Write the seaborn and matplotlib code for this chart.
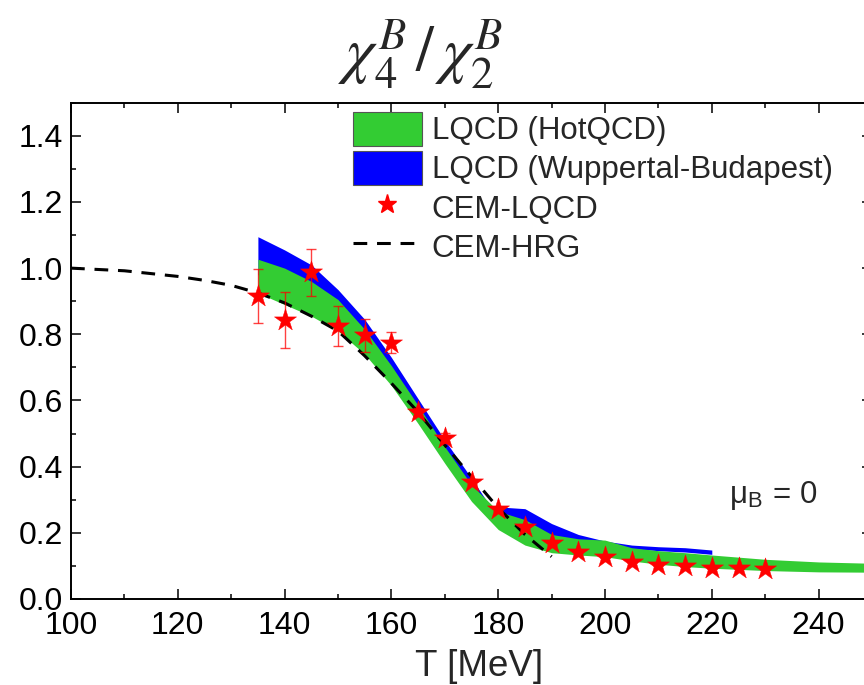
import numpy as np
import pandas as pd
import matplotlib
matplotlib.use("Agg")
import matplotlib.pyplot as plt
import seaborn as sns
from matplotlib.patches import Patch
from matplotlib.lines import Line2D
from matplotlib.ticker import MultipleLocator

# ---------------- data ----------------
hot_T = [135, 140, 145, 150, 155, 160, 165, 170, 175, 180, 185, 190, 195, 200, 205, 210, 215, 220, 230, 240, 250]
hot_lo = [0.925, 0.89, 0.855, 0.81, 0.74, 0.645, 0.53, 0.41, 0.295, 0.21, 0.163, 0.14, 0.133, 0.128, 0.115, 0.105, 0.098, 0.093, 0.086, 0.082, 0.081]
hot_hi = [1.027, 1.0, 0.96, 0.905, 0.815, 0.705, 0.585, 0.46, 0.345, 0.265, 0.24, 0.195, 0.182, 0.178, 0.155, 0.146, 0.14, 0.133, 0.12, 0.112, 0.108]

wb_T = [135, 140, 145, 150, 155, 160, 165, 170, 175, 178.5, 185, 190, 195, 200, 205, 210, 215, 220]
wb_hi = [1.095, 1.055, 1.01, 0.935, 0.845, 0.73, 0.605, 0.48, 0.365, 0.28, 0.273, 0.228, 0.195, 0.175, 0.163, 0.158, 0.155, 0.148]
wb_lo = [0.98, 0.95, 0.91, 0.85, 0.77, 0.67, 0.55, 0.43, 0.32, 0.25, 0.22, 0.18, 0.165, 0.16, 0.152, 0.146, 0.142, 0.135]

cem_T = [135, 140, 145, 150, 155, 160, 165, 170, 175, 180, 185, 190, 195, 200, 205, 210, 215, 220, 225, 230]
cem_y = [0.915, 0.843, 0.987, 0.825, 0.797, 0.775, 0.565, 0.487, 0.355, 0.273, 0.218, 0.168, 0.143, 0.127, 0.112, 0.104, 0.099, 0.095, 0.093, 0.09]
cem_err = [0.082, 0.085, 0.072, 0.06, 0.05, 0.033, 0.012, 0.015, 0.008, 0.006, 0.005, 0.004, 0.003, 0.003, 0.003, 0.003, 0.003, 0.003, 0.003, 0.003]

hrg_T = [100, 110, 120, 125, 130, 135, 140, 145, 150, 155, 160, 165, 170, 175, 180, 185, 190]
hrg_y = [1.0, 0.992, 0.975, 0.963, 0.948, 0.925, 0.895, 0.855, 0.81, 0.735, 0.652, 0.565, 0.465, 0.37, 0.275, 0.195, 0.128]

xticks = [100, 120, 140, 160, 180, 200, 220, 240]
yticks = [0.0, 0.2, 0.4, 0.6, 0.8, 1.0, 1.2, 1.4]

GREEN = "#33CC33"
BLUE = "#0000FF"
RED = "#FF0000"
DASH = (4.5, 3.2)

# ---------------- style ----------------
sns.set_theme(style="ticks")
plt.rcParams['font.family'] = ['Liberation Sans', 'DejaVu Sans']
plt.rcParams['mathtext.fontset'] = 'stix'

fig = plt.figure(figsize=(8.64, 6.85), dpi=100)
ax = fig.add_axes([71 / 864, (685 - 599) / 685, (872 - 71) / 864, (599 - 102.7) / 685])

ax.fill_between(wb_T, wb_lo, wb_hi, color=BLUE, lw=0, zorder=1)
ax.fill_between(hot_T, hot_lo, hot_hi, color=GREEN, lw=0, zorder=2)

hrg = pd.DataFrame({"T": hrg_T, "y": hrg_y})
sns.lineplot(data=hrg, x="T", y="y", ax=ax, color="black", lw=2.2,
             dashes=False, zorder=3)
ax.lines[-1].set_dashes(DASH)

ax.errorbar(cem_T, cem_y, yerr=cem_err, fmt="none", ecolor=RED, elinewidth=1.0,
            capsize=3.3, capthick=1.0, alpha=0.75, zorder=4)
cem = pd.DataFrame({"T": cem_T, "y": cem_y})
sns.scatterplot(data=cem, x="T", y="y", ax=ax, marker="*", s=280, color=RED,
                edgecolor=RED, linewidth=0.3, zorder=5)

ax.set_xlim(100, 250)
ax.set_ylim(0, 1.5)
ax.set_xticks(xticks)
ax.set_yticks(yticks)
ax.set_xticklabels([str(t) for t in xticks])
ax.set_yticklabels([f"{t:.1f}" for t in yticks])
ax.xaxis.set_minor_locator(MultipleLocator(10))
ax.yaxis.set_minor_locator(MultipleLocator(0.1))
ax.tick_params(which="both", direction="in", top=True, right=True, width=1.1, color="black")
ax.tick_params(which="major", length=7, labelsize=23, pad=6, labelcolor="black")
ax.tick_params(which="minor", length=3.6)
ax.tick_params(axis="x", pad=9)
for s in ax.spines.values():
    s.set_linewidth(1.4)
    s.set_color("black")
ax.set_xlabel("")
ax.set_ylabel("")

handles = [
    Patch(facecolor=GREEN, edgecolor="#555555", lw=0.8),
    Patch(facecolor=BLUE, edgecolor="#555555", lw=0.8),
    Line2D([], [], marker="*", color=RED, ls="none", markersize=14),
    Line2D([], [], color="black", lw=2.2, dashes=DASH),
]
labels = ["LQCD (HotQCD)", "LQCD (Wuppertal-Budapest)", "CEM-LQCD", "CEM-HRG"]
ax.legend(handles, labels, loc="upper left", bbox_to_anchor=(282 / 801, 1 - 9 / 496.3),
          frameon=False, fontsize=22.5, handlelength=2.2, handleheight=1.3,
          handletextpad=0.32, labelspacing=0.15, borderpad=0, borderaxespad=0)

ax.text(223.3, 0.313, "μ$_\\mathregular{B}$ = 0", fontsize=22.5, va="center", ha="left")

fig.text(420 / 864, 1 - 55 / 685, r"$\chi_4^B\,/\,\chi_2^B$", fontsize=46, ha="center", va="center")
fig.text(479 / 864, 1 - 649 / 685, "T [MeV]", fontsize=26.5, ha="center", va="top")

fig.savefig("out.png", dpi=100)
